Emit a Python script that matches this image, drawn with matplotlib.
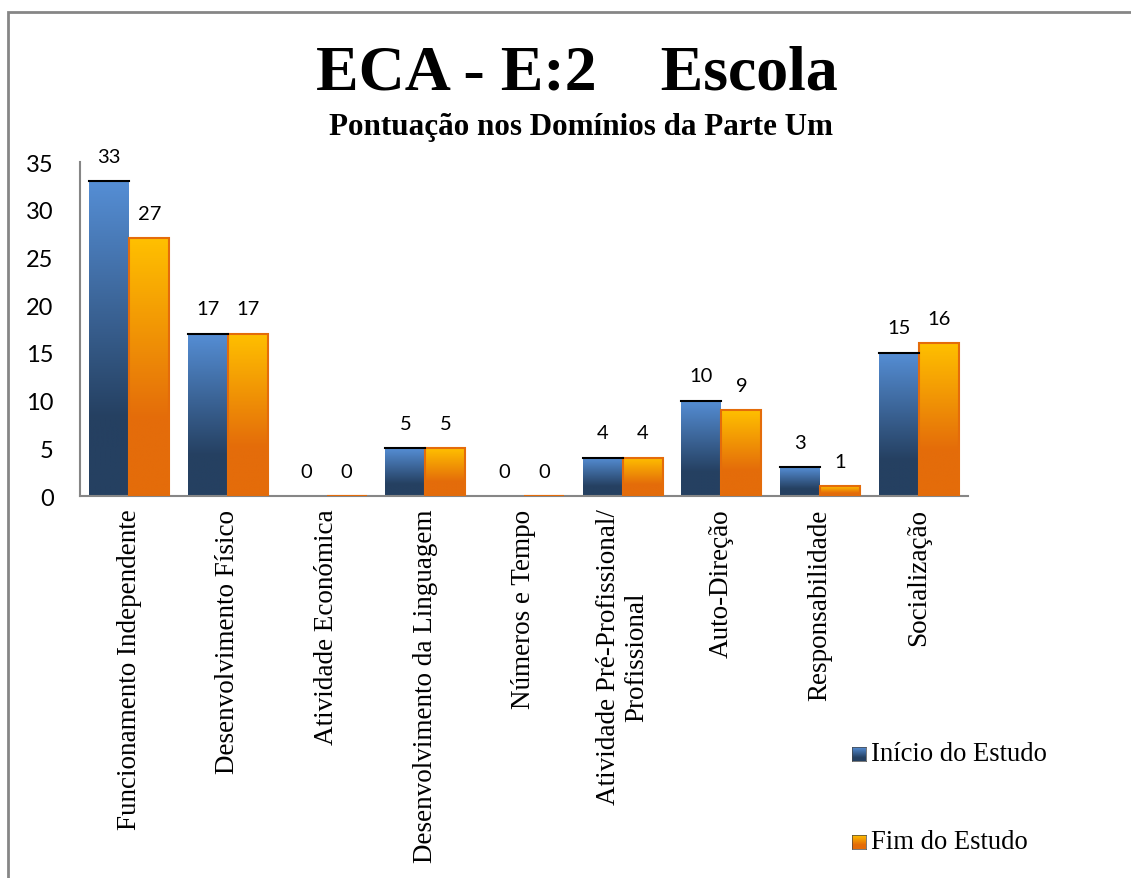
import matplotlib
matplotlib.use('Agg')
import matplotlib.pyplot as plt
from matplotlib.colors import LinearSegmentedColormap
from matplotlib.patches import Rectangle
import numpy as np

categories = [
    'Funcionamento Independente',
    'Desenvolvimento Físico',
    'Atividade Económica',
    'Desenvolvimento da Linguagem',
    'Números e Tempo',
    'Atividade Pré-Profissional/\nProfissional',
    'Auto-Direção',
    'Responsabilidade',
    'Socialização',
]
inicio = [33, 17, 0, 5, 0, 4, 10, 3, 15]
fim = [27, 17, 0, 5, 0, 4, 9, 1, 16]
series_names = ['Início do Estudo', 'Fim do Estudo']

serif = 'Liberation Serif'
sans = 'Lato'

blue_cmap = LinearSegmentedColormap.from_list(
    'blue', [(0, '#558ed5'), (0.75, '#254061'), (1, '#254061')])
orange_cmap = LinearSegmentedColormap.from_list(
    'orange', [(0, '#ffc000'), (0.7, '#e46c0a'), (1, '#e46c0a')])

fig = plt.figure(figsize=(11.31, 8.79), dpi=100)

# outer chart border (only left/top visible in the frame)
fig.patches.append(Rectangle((8 / 1131, -0.1), 1.2, 1 - 13 / 879 + 0.1,
                             transform=fig.transFigure, fill=False,
                             edgecolor='#868686', linewidth=2))

ax = fig.add_axes([80 / 1131, 1 - 497 / 879, 888 / 1131, 334 / 879])

x = np.arange(len(categories))
w = 0.405

grad = np.linspace(0, 1, 256).reshape(-1, 1)


def gradient_bars(xs, vals, cmap, edge, top_line):
    bars = ax.bar(xs, vals, width=w, align='edge', color='none',
                  edgecolor=edge, linewidth=1.5 if edge != 'none' else 0, zorder=3)
    for b, v in zip(bars, vals):
        if v <= 0:
            continue
        x0 = b.get_x()
        im = ax.imshow(grad, cmap=cmap, aspect='auto', origin='upper',
                       extent=(x0, x0 + w, 0, v), zorder=2, interpolation='bilinear')
        im.set_clip_path(b)
        if top_line:
            ax.plot([x0, x0 + w], [v, v], color='black', linewidth=1.5, zorder=4)
    return bars


gradient_bars(x - w, inicio, blue_cmap, 'none', True)
gradient_bars(x, fim, orange_cmap, '#e46c0a', False)

for xs, vals in ((x - w / 2, inicio), (x + w / 2, fim)):
    for xi, v in zip(xs, vals):
        ax.annotate(str(v), (xi, v), xytext=(0, 25), textcoords='offset pixels',
                    ha='center', va='center', fontsize=14.5, family=sans)

ax.set_xlim(-0.5, len(categories) - 0.5)
ax.set_ylim(0, 35)
ax.set_yticks(range(0, 36, 5))
ax.set_xticks(x)
ax.set_xticklabels(categories, rotation=90, family=serif, fontsize=19.5,
                   va='top', ha='center', linespacing=1.15)
ax.tick_params(axis='x', length=0, pad=9)
ax.tick_params(axis='y', length=0, pad=19, labelsize=17)
for lbl in ax.get_yticklabels():
    lbl.set_family(sans)

for s in ('top', 'right'):
    ax.spines[s].set_visible(False)
for s in ('left', 'bottom'):
    ax.spines[s].set_color('#868686')
    ax.spines[s].set_linewidth(1.5)

fig.text(577 / 1131, 1 - 75 / 879, 'ECA - E:2    Escola', ha='center', va='center',
         family=serif, fontweight='bold', fontsize=46)
fig.text(581 / 1131, 1 - 127 / 879, 'Pontuação nos Domínios da Parte Um', ha='center',
         va='center', family=serif, fontweight='bold', fontsize=22.4)

# legend
for name, cmap, ypix in ((series_names[0], blue_cmap, 755), (series_names[1], orange_cmap, 843)):
    lax = fig.add_axes([852 / 1131, 1 - (ypix + 7) / 879, 14 / 1131, 14 / 879])
    lax.imshow(grad, cmap=cmap, aspect='auto', extent=(0, 1, 0, 1))
    lax.set_xticks([])
    lax.set_yticks([])
    for sp in lax.spines.values():
        sp.set_linewidth(0.5)
        sp.set_color('#444444')
    fig.text(871 / 1131, 1 - ypix / 879, name, ha='left', va='center',
             family=serif, fontsize=19.2)

fig.savefig('out.png', dpi=100)
